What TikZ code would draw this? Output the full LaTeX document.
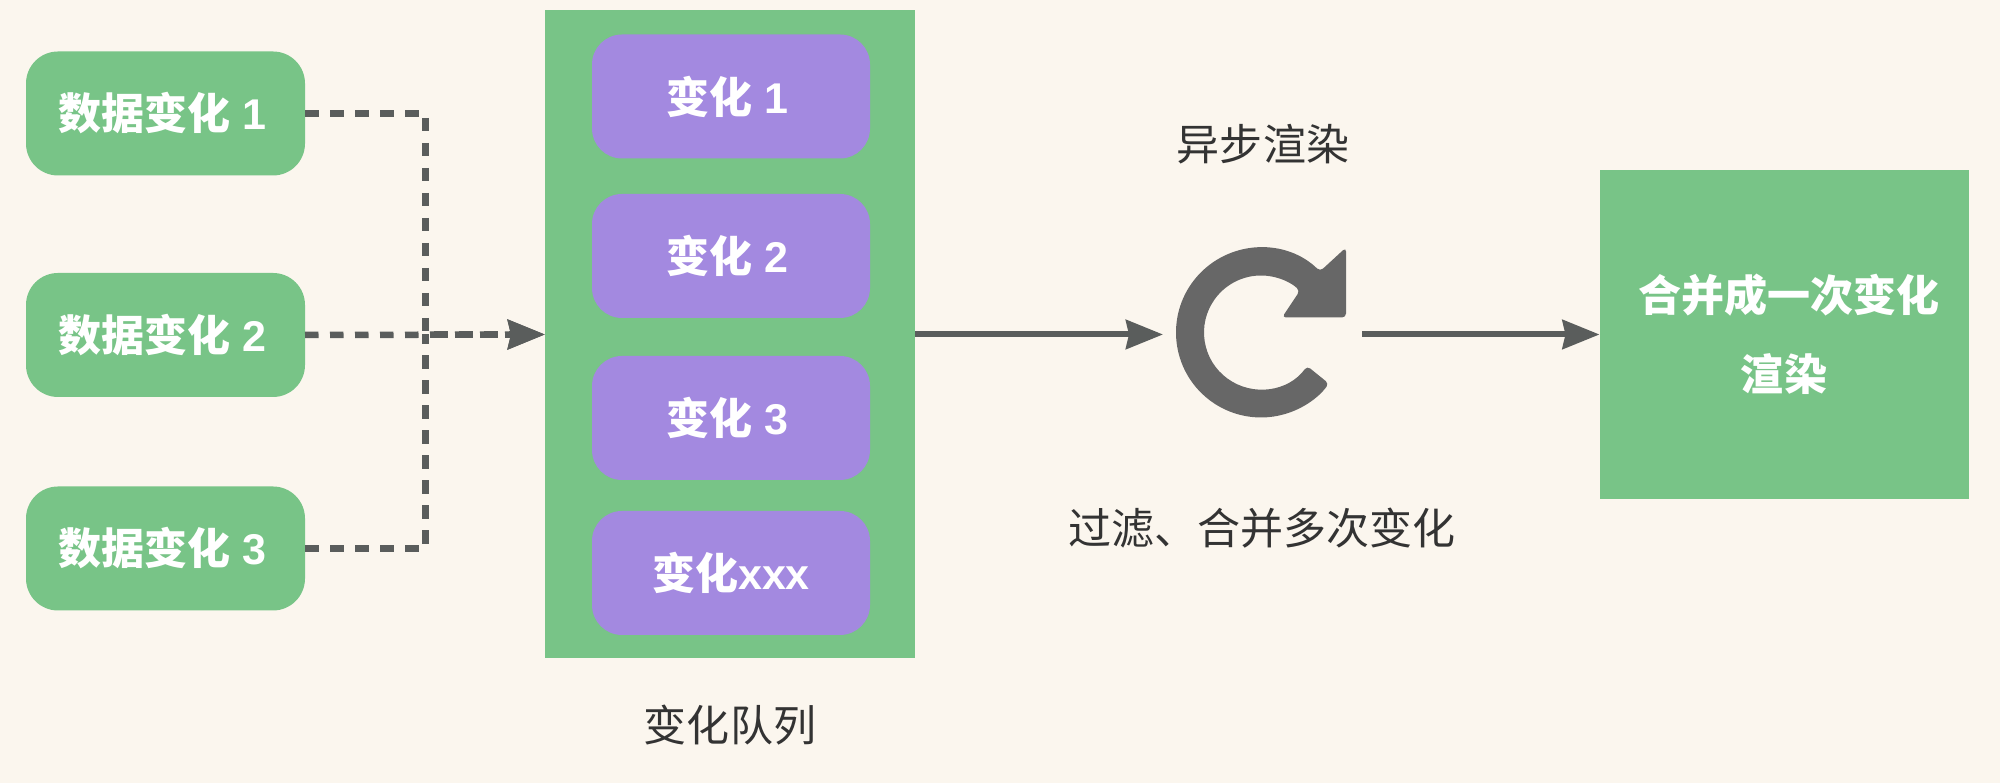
\documentclass[tikz,border=0pt]{standalone}
\usepackage{fontspec}
\setmainfont{Noto Sans CJK SC}
\newfontfamily\latinfont{Liberation Sans}
\newcommand*{\boxfont}{\bfseries\fontsize{12.24pt}{22.4pt}\selectfont}
\newcommand*{\notefont}{\fontsize{12.24pt}{14pt}\selectfont}
\newcommand*{\lat}[1]{{\latinfont\bfseries #1}}
\newcommand*{\dig}[1]{\lat{ #1}\hspace*{0.07cm}}
\definecolor{paper}{HTML}{FBF6EE}
\definecolor{leaf}{HTML}{78C487}
\definecolor{lilac}{HTML}{A389E0}
\definecolor{wire}{HTML}{5A5D5C}
\definecolor{spinner}{HTML}{676767}
\definecolor{note}{HTML}{333333}
\usetikzlibrary{arrows.meta}
\tikzstyle{base}=[inner sep=0pt, outer sep=0pt]
\tikzstyle{databox}=[fill=leaf, rounded corners=0.32cm, minimum width=2.79cm, minimum height=1.24cm, text=white, font=\boxfont]
\tikzstyle{changebox}=[fill=lilac, rounded corners=0.3cm, minimum width=2.78cm, minimum height=1.24cm, text=white, font=\boxfont]
\tikzstyle{notelabel}=[text=note, font=\notefont]
\tikzstyle{dashwire}=[wire, line width=0.065cm, dash pattern=on 1.35mm off 1.15mm]
\tikzstyle{tip}=[-{Stealth[length=3.7mm, width=2.9mm, inset=0.3mm]}]
\tikzstyle{solidwire}=[wire, line width=0.06cm, tip]

\begin{document}
\begin{tikzpicture}[base]
    \fill [paper] (0,0) rectangle (20,7.83);

    \node [databox] (data1) at (1.655,6.695) {数据变化\dig{1}};
    \node [databox] (data2) at (1.655,4.48) {数据变化\dig{2}};
    \node [databox] (data3) at (1.655,2.345) {数据变化\dig{3}};

    \node [fill=leaf, minimum width=3.7cm, minimum height=6.48cm] (queue) at (7.3,4.485) {};
    \node [changebox] (change1) at (7.31,6.865) {变化\dig{1}};
    \node [changebox] (change2) at (7.31,5.27) {变化\dig{2}};
    \node [changebox] (change3) at (7.31,3.65) {变化\dig{3}};
    \node [changebox] (change4) at (7.31,2.10) {变化\lat{xxx}};
    \node [notelabel] (queuelabel) at (7.3,0.58) {变化队列};

    \node [circle, minimum size=1.99cm] (spin) at (12.625,4.485) {};
    \node [notelabel] (asynclabel) at (12.63,6.385) {异步渲染};
    \node [notelabel] (filterlabel) at (12.62,2.545) {过滤、合并多次变化};

    \node [fill=leaf, minimum width=3.69cm, minimum height=3.29cm, align=center, text=white, font=\boxfont] (merge) at (17.84,4.485) {\hspace*{0.1cm}合并成一次变化\\渲染};

    \coordinate (bus) at (4.255,4.485);
    \draw [dashwire, tip] (data1.east) -| (bus) -- (queue.west);
    \draw [dashwire, tip] (data2.east) -- (queue.west);
    \draw [dashwire] (data3.east) -| (bus);
    \draw [solidwire] (queue.east) -- (spin.west);
    \draw [solidwire] (spin.east) -- (merge.west);

    % reload mark
    \fill [spinner, rounded corners=0.04cm, shift={(12.61,4.505)}]
        (-36:0.57) arc [start angle=-36, end angle=-313, radius=0.57]
        -- (0.21,0.15) -- (0.85,0.15) -- (0.85,0.85) -- (46:0.85)
        arc [start angle=46, end angle=323, radius=0.85] -- cycle;

    \path [use as bounding box] (0,0) rectangle (20,7.83);
\end{tikzpicture}
\end{document}
